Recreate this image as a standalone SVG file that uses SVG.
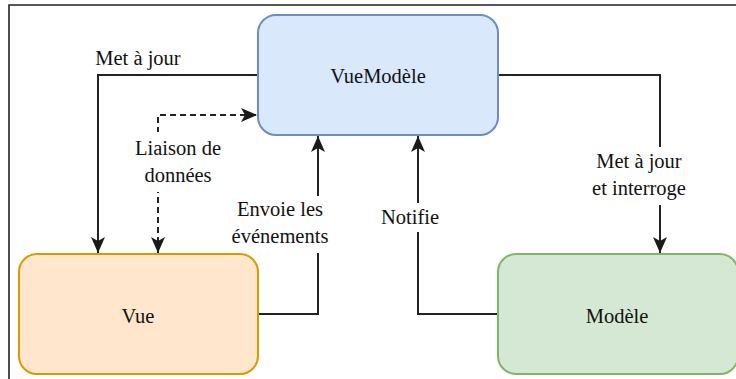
<svg xmlns="http://www.w3.org/2000/svg" width="736" height="379" viewBox="0 0 736 379">
  <style>
    .t { font-size: 20.5px; fill: #111111; text-anchor: middle; }
    .frame { fill: none; stroke: #222; stroke-width: 1.6; }
    .box { stroke-width: 2; }
    .edge { fill: none; stroke: #222; stroke-width: 2; }
    .dashed { stroke-dasharray: 6 4; }
    .lbl-bg { fill: #ffffff; }
  </style>
  <defs>
    <marker id="arrow" viewBox="0 0 16 14" refX="16" refY="7" markerWidth="16" markerHeight="14" markerUnits="userSpaceOnUse" orient="auto-start-reverse">
      <path d="M0,0 L16,7 L0,14 L4,7 Z" fill="#1a1a1a"/>
    </marker>
  </defs>

  <rect width="736" height="379" fill="#ffffff"/>
  <!-- outer frame -->
  <path class="frame" d="M9,379 V5 H736"/>

  <!-- connectors -->
  <g id="connectors" font-family="Liberation Serif, serif">
    <path class="edge" d="M258,75 H98 V253" marker-end="url(#arrow)"/>
    <path class="edge dashed" d="M158,253 V115 H257" marker-start="url(#arrow)" marker-end="url(#arrow)"/>
    <path class="edge" d="M258,314 H318 V136" marker-end="url(#arrow)"/>
    <path class="edge" d="M498,314 H418 V136" marker-end="url(#arrow)"/>
    <path class="edge" d="M498,75 H660 V253" marker-end="url(#arrow)"/>

    <!-- edge labels -->
    <text class="t" x="138" y="65">Met à jour</text>

    <rect class="lbl-bg" x="132" y="132" width="92" height="60"/>
    <text class="t" x="178" y="155">Liaison de</text>
    <text class="t" x="178" y="182">données</text>

    <rect class="lbl-bg" x="229" y="196" width="104" height="57"/>
    <text class="t" x="280" y="216">Envoie les</text>
    <text class="t" x="280" y="243">événements</text>

    <rect class="lbl-bg" x="379" y="203" width="62" height="29"/>
    <text class="t" x="410" y="224">Notifie</text>

    <rect class="lbl-bg" x="589" y="147" width="101" height="58"/>
    <text class="t" x="639" y="168">Met à jour</text>
    <text class="t" x="639" y="195">et interroge</text>
  </g>

  <!-- nodes -->
  <g id="vuemodele" font-family="Liberation Serif, serif">
    <rect class="box" x="258" y="15" width="240" height="120" rx="18" fill="#dae8fc" stroke="#6c8ebf"/>
    <text class="t" x="378" y="83">VueModèle</text>
  </g>
  <g id="vue" font-family="Liberation Serif, serif">
    <rect class="box" x="19" y="254" width="239" height="120" rx="18" fill="#ffe6cc" stroke="#d79b00"/>
    <text class="t" x="138" y="323">Vue</text>
  </g>
  <g id="modele" font-family="Liberation Serif, serif">
    <rect class="box" x="498" y="254" width="240" height="120" rx="18" fill="#d5e8d4" stroke="#82b366"/>
    <text class="t" x="617" y="323">Modèle</text>
  </g>
</svg>
